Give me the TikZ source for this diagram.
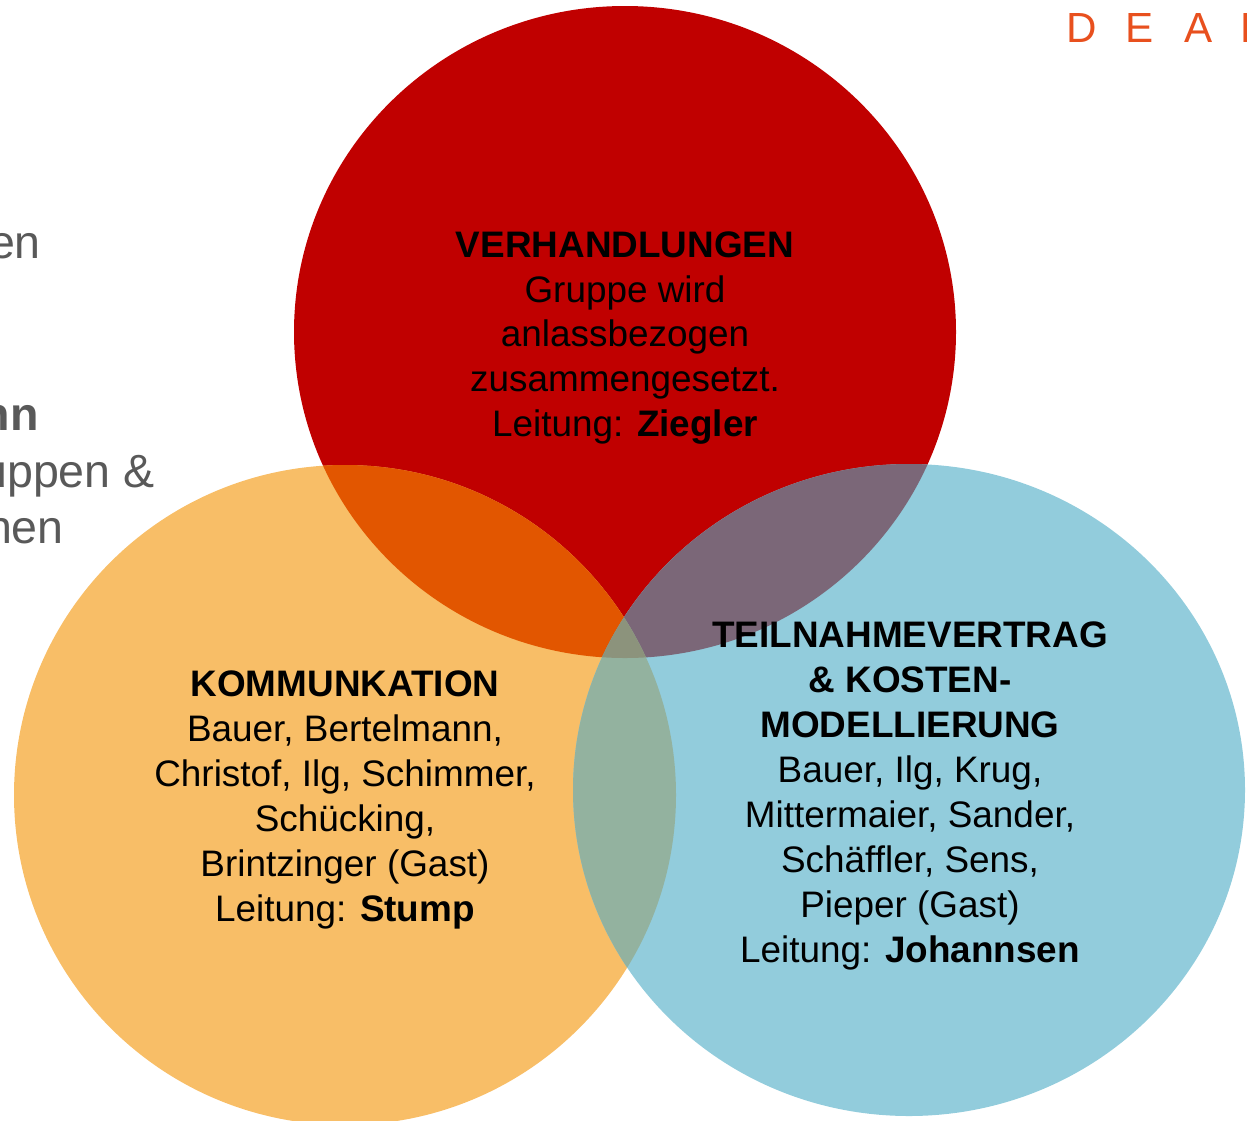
\documentclass[tikz,border=0pt]{standalone}
\usepackage{fontspec}
\setmainfont{Liberation Sans}

\definecolor{verh}{HTML}{C00000}
\definecolor{komm}{HTML}{F8BE67}
\definecolor{teil}{HTML}{92CCDC}
\definecolor{verhkomm}{HTML}{E25600}
\definecolor{verhteil}{HTML}{7B6778}
\definecolor{kommteil}{HTML}{93B29F}
\definecolor{alle}{HTML}{8C937C}
\definecolor{grau}{HTML}{595959}
\definecolor{deal}{HTML}{E8501E}

\begin{document}
\begin{tikzpicture}[x=0.02cm,y=-0.02cm,
    kreis/.style={align=center,text=black,font=\fontsize{21}{25.6}\selectfont},
    rest/.style={anchor=base east,text=grau,font=\fontsize{26.5}{31}\selectfont},
    dealchar/.style={anchor=base,text=deal,font=\fontsize{24}{28}\selectfont}]

\useasboundingbox (0,0) rectangle (1247,1120);
\clip (0,0) rectangle (1247,1120);

\coordinate (V) at (625,332);
\coordinate (K) at (345,795);
\coordinate (T) at (909,790);

% Kreise
\fill [verh] (V) ellipse [x radius=331, y radius=326];
\fill [komm] (K) ellipse [x radius=331, y radius=330];
\fill [teil] (T) ellipse [x radius=336, y radius=326];

% Schnittflaechen
\begin{scope}
    \clip (V) ellipse [x radius=331, y radius=326];
    \fill [verhkomm] (K) ellipse [x radius=331, y radius=330];
    \fill [verhteil] (T) ellipse [x radius=336, y radius=326];
\end{scope}
\begin{scope}
    \clip (K) ellipse [x radius=331, y radius=330];
    \fill [kommteil] (T) ellipse [x radius=336, y radius=326];
    \clip (T) ellipse [x radius=336, y radius=326];
    \fill [alle] (V) ellipse [x radius=331, y radius=326];
\end{scope}

\node [kreis] (verhtext) at (625,338)
    {\textbf{VERHANDLUNGEN}\\Gruppe wird\\anlassbezogen\\zusammengesetzt.\\Leitung: \textbf{Ziegler}};

\node [kreis] (kommtext) at (345,800)
    {\textbf{KOMMUNKATION}\\Bauer, Bertelmann,\\Christof, Ilg, Schimmer,\\Sch\"ucking,\\Brintzinger (Gast)\\Leitung: \textbf{Stump}};

\node [kreis] (teiltext) at (910,796)
    {\textbf{TEILNAHMEVERTRAG}\\\textbf{\& KOSTEN-}\\\textbf{MODELLIERUNG}\\Bauer, Ilg, Krug,\\Mittermaier, Sander,\\Sch\"affler, Sens,\\Pieper (Gast)\\Leitung: \textbf{Johannsen}};

% abgeschnittener Text links
\node [rest] (rest1) at (47,258) {en};
\node [rest] (rest2) at (45,430) {\textbf{nn}};
\node [rest] (rest3) at (161,487) {uppen \&};
\node [rest] (rest4) at (70,543) {nen};

\foreach \l/\x in {D/1082,E/1140,A/1199,L/1252}
    \node [dealchar] (deal\l) at (\x,42) {\l};

\end{tikzpicture}
\end{document}
